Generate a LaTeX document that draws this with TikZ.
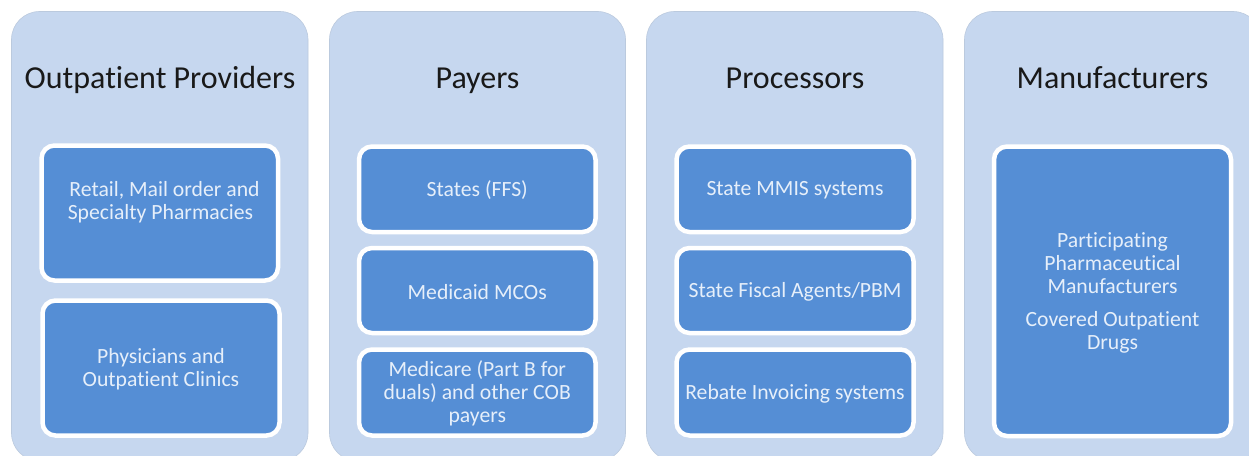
\documentclass[tikz,border=0pt]{standalone}
\usepackage{fontspec}
\setmainfont[Ligatures=NoCommon]{Carlito}
\definecolor{panelc}{HTML}{C6D7EF}
\definecolor{boxc}{HTML}{558ED5}
\definecolor{txtc}{HTML}{E6EFFA}
\tikzset{x=1pt,y=-1pt,
 panel/.style={fill=panelc,draw=panelc!85!gray,line width=.6pt,rounded corners=28pt},
 titletext/.style={font=\fontsize{32}{36}\selectfont,text=black!90,inner sep=0pt,anchor=base},
 boxa/.style={rectangle,fill=boxc,draw=white,line width=4.5pt,rounded corners=13pt,inner sep=0pt},
 free/.style={text=txtc,inner sep=0pt,align=center,font=\fontsize{21.7}{23}\selectfont},
}
\newcommand{\bx}[6]{\node[boxa,minimum width=#4pt-#2pt,minimum height=#5pt-#3pt] (#1) at ({(#2+#4)/2},{(#3+#5)/2}) {};
 \node[free] (#1t) at ([yshift=-1.3pt]#1.center) {#6};}
\begin{document}
\begin{tikzpicture}
\useasboundingbox (0,0) rectangle (1249,455);
\clip (0,0) rectangle (1249,455);
\fill[white] (0,0) rectangle (1249,455);
\draw[panel] (11.5,11.5) rectangle (308,461);
\draw[panel] (329.5,11.5) rectangle (625.5,461);
\draw[panel] (646.5,11.5) rectangle (943,461);
\draw[panel] (964.5,11.5) rectangle (1261,461);
\node[titletext] (t1) at (160,88) {Outpatient Providers};
\node[titletext] (t2) at (477.5,88) {Payers};
\node[titletext] (t3) at (795,88) {Processors};
\node[titletext] (t4) at (1112.5,88) {Manufacturers};
\bx{a1}{41.5}{145.5}{278}{280.5}{}
\bx{a2}{42.5}{300.5}{279.5}{435.5}{Physicians and\\Outpatient Clinics}
\node[free] (a1text) at (161.5,201.8) {\hspace*{6pt}Retail, Mail order and\\Specialty Pharmacies\hspace*{2pt}};
\bx{b1}{359}{146.5}{595.5}{232}{States (FFS)}
\bx{b2}{359}{248}{595.5}{333}{Medicaid MCOs}
\bx{b3}{359}{349.5}{595.5}{435.5}{Medicare (Part B for\\duals) and other COB\\payers}
\bx{c1}{676.5}{146.5}{913.5}{232}{State MMIS systems}
\bx{c2}{676.5}{248}{913.5}{333}{State Fiscal Agents/PBM}
\bx{c3}{676.5}{349.5}{913.5}{435.5}{Rebate Invoicing systems}
\bx{d1}{994}{146.5}{1231}{436}{Participating\\Pharmaceutical\\Manufacturers\\[10pt]Covered Outpatient\\Drugs}
\end{tikzpicture}
\end{document}
